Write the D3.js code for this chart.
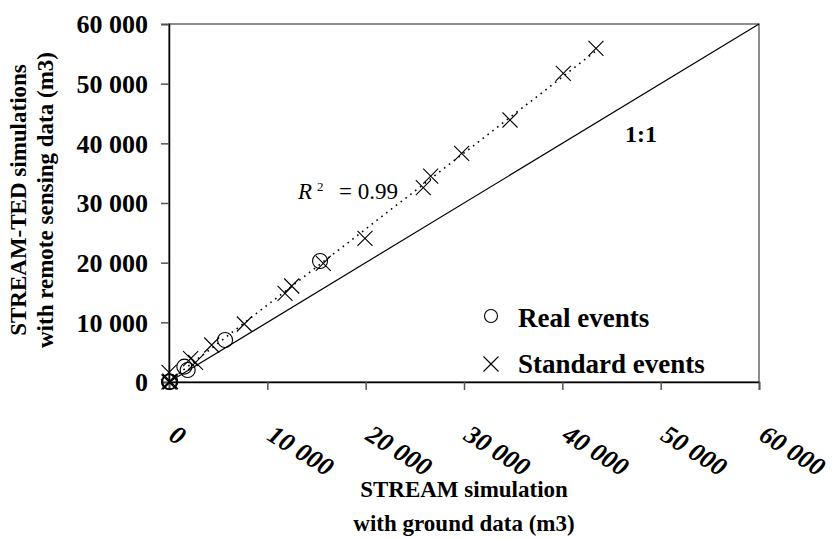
<!DOCTYPE html>
<html>
<head>
<meta charset="utf-8">
<script src="https://cdn.jsdelivr.net/npm/d3@7/dist/d3.min.js"></script>
<style>
  html, body { margin: 0; padding: 0; background: #fff; }
  svg { display: block; font-family: "Liberation Serif", "Times New Roman", serif; }
</style>
</head>
<body>
<svg id="chart" width="834" height="539"></svg>
<script>
// Volumes (m3): STREAM with ground data (x) vs STREAM-TED with remote sensing data (y)
const realEvents = [
  [0, 0], [60, 90], [120, 40],
  [1560, 2570], [1900, 2010],
  [5700, 7040],
  [15360, 20280]
];
const standardEvents = [
  [0, 0], [80, 140], [150, 40], [0, 1600],
  [2200, 3900], [2700, 3300],
  [4340, 6200], [7660, 9720],
  [11800, 14870], [12480, 16090],
  [15690, 19890], [19930, 24080],
  [25860, 32560], [26610, 34520],
  [29760, 38330], [34680, 43910],
  [40100, 51730], [43420, 55920]
];
const tickValues = [0, 10000, 20000, 30000, 40000, 50000, 60000];
const domainMax = 60000;
const r2Label = "0.99";

const svg = d3.select("#chart");
const plot = { left: 169, top: 24, right: 759, bottom: 382 };

const x = d3.scaleLinear().domain([0, domainMax]).range([plot.left, plot.right]);
const y = d3.scaleLinear().domain([0, domainMax]).range([plot.bottom, plot.top]);

const fmt = v => v === 0 ? "0" : d3.format(",")(v).replace(/,/g, " ");

// plot area frame
svg.append("rect")
  .attr("x", plot.left).attr("y", plot.top)
  .attr("width", plot.right - plot.left).attr("height", plot.bottom - plot.top)
  .attr("fill", "none").attr("stroke", "#444").attr("stroke-width", 1.2);

// y axis
const yAxis = svg.append("g")
  .attr("transform", `translate(${plot.left},0)`)
  .call(d3.axisLeft(y).tickValues(tickValues).tickFormat(fmt).tickSize(8).tickPadding(13));
yAxis.select(".domain").attr("stroke", "#000").attr("stroke-width", 1.5);
yAxis.selectAll(".tick line").attr("stroke", "#555").attr("stroke-width", 1.5);
yAxis.selectAll(".tick text")
  .attr("font-family", "Liberation Serif").attr("font-weight", "bold")
  .attr("font-size", 26).attr("fill", "#000").attr("dy", "0.34em");

// x axis with slanted italic labels
const xAxis = svg.append("g")
  .attr("transform", `translate(0,${plot.bottom})`)
  .call(d3.axisBottom(x).tickValues(tickValues).tickFormat(fmt).tickSize(8));
xAxis.select(".domain").attr("stroke", "#000").attr("stroke-width", 1.5);
xAxis.selectAll(".tick line").attr("stroke", "#555").attr("stroke-width", 1.5);
xAxis.selectAll(".tick text")
  .attr("font-family", "Liberation Serif").attr("font-weight", "bold").attr("font-style", "italic")
  .attr("font-size", 26).attr("fill", "#000")
  .attr("text-anchor", "start")
  .attr("y", 0).attr("dy", 0)
  .attr("transform", "translate(-2,57) rotate(32)");

// 1:1 reference line
svg.append("line")
  .attr("x1", x(0)).attr("y1", y(0))
  .attr("x2", x(domainMax)).attr("y2", y(domainMax))
  .attr("stroke", "#000").attr("stroke-width", 1.2);

svg.append("text")
  .attr("x", 625).attr("y", 142)
  .attr("font-weight", "bold").attr("font-size", 24)
  .text("1:1");

// linear trend line through all events
const all = realEvents.concat(standardEvents);
const mx = d3.mean(all, d => d[0]), my = d3.mean(all, d => d[1]);
const slope = d3.sum(all, d => (d[0] - mx) * (d[1] - my)) / d3.sum(all, d => (d[0] - mx) ** 2);
const intercept = my - slope * mx;
const xMin = d3.min(all, d => d[0]), xMax = d3.max(all, d => d[0]);
svg.append("line")
  .attr("x1", x(xMin)).attr("y1", y(intercept + slope * xMin))
  .attr("x2", x(xMax)).attr("y2", y(intercept + slope * xMax))
  .attr("stroke", "#000").attr("stroke-width", 1.6)
  .attr("stroke-dasharray", "1.6,4.5");

// R² annotation
const r2 = svg.append("text").attr("font-size", 23);
r2.append("tspan").attr("x", 298).attr("y", 199).attr("font-style", "italic").text("R");
r2.append("tspan").attr("x", 317).attr("y", 191).attr("font-size", 13).text("2");
r2.append("tspan").attr("x", 339).attr("y", 199).text("= " + r2Label);

// markers
const crossSize = 7.5;
function drawCross(g, cx, cy, s) {
  g.append("path")
    .attr("d", `M${cx - s},${cy - s}L${cx + s},${cy + s}M${cx - s},${cy + s}L${cx + s},${cy - s}`)
    .attr("stroke", "#000").attr("stroke-width", 1.1).attr("fill", "none");
}
const marks = svg.append("g");
standardEvents.forEach(d => drawCross(marks, x(d[0]), y(d[1]), crossSize));
marks.selectAll("circle.real")
  .data(realEvents).join("circle")
  .attr("class", "real")
  .attr("cx", d => x(d[0])).attr("cy", d => y(d[1])).attr("r", 7.5)
  .attr("fill", "none").attr("stroke", "#000").attr("stroke-width", 1.1);

// legend
const legend = svg.append("g");
legend.append("circle").attr("cx", 491).attr("cy", 316).attr("r", 6.5)
  .attr("fill", "none").attr("stroke", "#000").attr("stroke-width", 1.1);
legend.append("text").attr("x", 518).attr("y", 327)
  .attr("font-weight", "bold").attr("font-size", 27).text("Real events");
drawCross(legend, 491, 364, crossSize);
legend.append("text").attr("x", 518).attr("y", 373)
  .attr("font-weight", "bold").attr("font-size", 27).text("Standard events");

// axis titles
const xTitle = svg.append("text").attr("text-anchor", "middle")
  .attr("font-weight", "bold").attr("font-size", 23);
xTitle.append("tspan").attr("x", 464).attr("y", 497).text("STREAM simulation");
xTitle.append("tspan").attr("x", 464).attr("y", 531).text("with ground data (m3)");

const yTitle = svg.append("text").attr("text-anchor", "middle")
  .attr("font-weight", "bold").attr("font-size", 23)
  .attr("transform", "translate(0,200) rotate(-90)");
yTitle.append("tspan").attr("x", 0).attr("y", 26).text("STREAM-TED simulations");
yTitle.append("tspan").attr("x", 0).attr("y", 53).text("with remote sensing data (m3)");
</script>
</body>
</html>
